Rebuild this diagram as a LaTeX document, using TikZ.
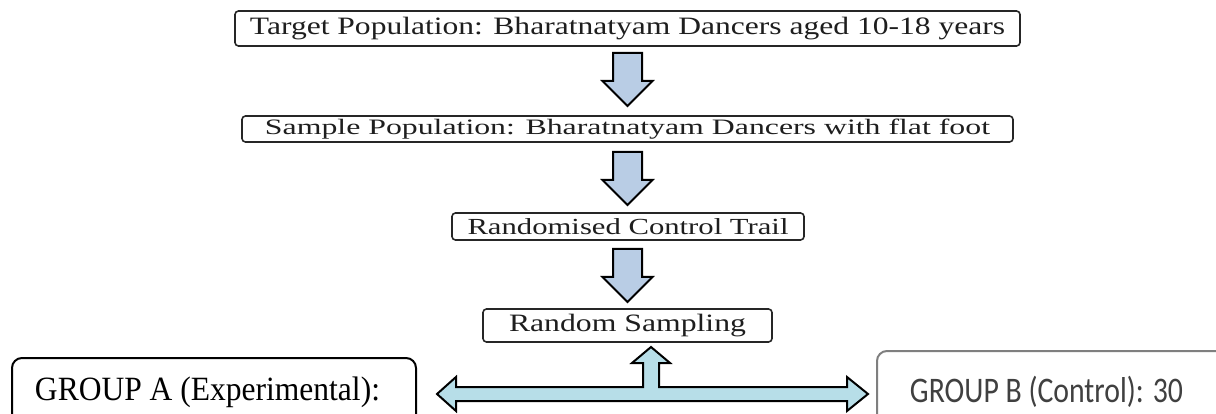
\documentclass[tikz,border=0pt]{standalone}
\usepackage{fontspec}
\usepackage{graphicx}
\setmainfont{Liberation Serif}
\newfontfamily\carlitofont{Carlito}
\newcommand{\wtext}[3]{\resizebox{#1}{#2\height}{#3}}
\definecolor{arrblue}{HTML}{B9CDE5}
\definecolor{arrcyan}{HTML}{B7DEE8}
\definecolor{txtdark}{HTML}{1E1E1E}
\definecolor{grayline}{HTML}{7F7F7F}
\definecolor{graytext}{HTML}{404040}
\tikzset{
  topbox/.style={draw=black!85, line width=1.6pt, rounded corners=3.5pt, fill=white,
    inner sep=0pt, text=txtdark},
  groupbox/.style={draw=black, line width=2pt, rounded corners=10pt, fill=white, inner sep=0pt},
  groupboxb/.style={draw=grayline, line width=2pt, rounded corners=10pt, fill=white, inner sep=0pt,
    text=graytext},
  blockarr/.style={draw=black, line width=2pt, fill=arrblue, line join=miter},
  connarr/.style={draw=black, line width=2pt, fill=arrcyan, line join=miter},
  pics/downarr/.style={code={
    \draw[blockarr] (-14.5,0) -- (14.5,0) -- (14.5,28) -- (25,28) -- (0,53) -- (-25,28) -- (-14.5,28) -- cycle;
  }}
}
\begin{document}
\begin{tikzpicture}[x=1pt,y=-1pt]
\useasboundingbox (0,0) rectangle (1216,414);
\clip (0,0) rectangle (1216,414);
\fill[white] (0,0) rectangle (1216,414);

% boxes
\node[topbox, minimum width=785pt, minimum height=35pt] (b1) at (627.5,28.5)
  {\wtext{755pt}{1}{\fontsize{25pt}{25pt}\selectfont Target Population: Bharatnatyam Dancers aged 10-18 years}};
\node[topbox, minimum width=771pt, minimum height=26pt] (b2) at (627.5,129)
  {\wtext{725pt}{1}{\fontsize{22pt}{22pt}\selectfont Sample Population: Bharatnatyam Dancers with flat foot}};
\node[topbox, minimum width=352pt, minimum height=27pt] (b3) at (628,226.5)
  {\wtext{321pt}{1}{\fontsize{23pt}{23pt}\selectfont Randomised Control Trail}};
\node[topbox, minimum width=289pt, minimum height=33pt] (b4) at (627.5,325.5)
  {\wtext{237pt}{1}{\fontsize{25pt}{25pt}\selectfont Random Sampling}};

\node[groupbox, minimum width=404pt, minimum height=68pt] (ga) at (214,392)
  {\wtext{345pt}{1}{\fontsize{34pt}{34pt}\selectfont GROUP A (Experimental):}\hspace*{13pt}};
\node[groupboxb, minimum width=363pt, minimum height=82pt] (gb) at (1058.5,392)
  {\wtext{273pt}{1.2}{\carlitofont\fontsize{30pt}{30pt}\selectfont GROUP B (Control): 30}\hspace*{24pt}};

% down block arrows
\pic at (627.5,53) {downarr};
\pic at (627.5,152) {downarr};
\pic at (627.5,249) {downarr};

% split connector
\draw[connarr] (437,394) -- (456,377) -- (456,387) -- (643,387) -- (643,363) -- (632,363)
  -- (651,347) -- (670,363) -- (659,363) -- (659,387) -- (847,387) -- (847,377)
  -- (868,394) -- (847,411) -- (847,401) -- (456,401) -- (456,411) -- cycle;
\end{tikzpicture}
\end{document}
